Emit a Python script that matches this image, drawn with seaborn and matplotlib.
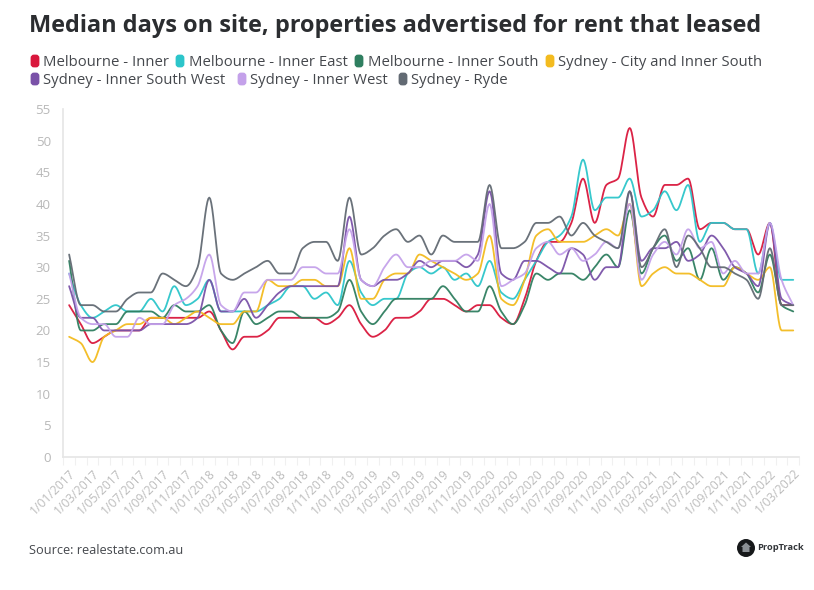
import numpy as np
import pandas as pd
import seaborn as sns
import matplotlib
matplotlib.use('Agg')
import matplotlib.pyplot as plt
from matplotlib.patches import Circle, FancyBboxPatch, Polygon

title = 'Median days on site, properties advertised for rent that leased'
source = 'Source: realestate.com.au'
yticks = [0, 5, 10, 15, 20, 25, 30, 35, 40, 45, 50, 55]
# every second month gets a label
xlabels = ['1/01/2017', '1/03/2017', '1/05/2017', '1/07/2017', '1/09/2017', '1/11/2017',
           '1/01/2018', '1/03/2018', '1/05/2018', '1/07/2018', '1/09/2018', '1/11/2018',
           '1/01/2019', '1/03/2019', '1/05/2019', '1/07/2019', '1/09/2019', '1/11/2019',
           '1/01/2020', '1/03/2020', '1/05/2020', '1/07/2020', '1/09/2020', '1/11/2020',
           '1/01/2021', '1/03/2021', '1/05/2021', '1/07/2021', '1/09/2021', '1/11/2021',
           '1/01/2022', '1/03/2022']

mel_inner = [24, 21, 18, 19, 20, 20, 20, 22, 22, 22, 22, 22, 23, 20, 17, 19, 19, 20, 22, 22,
             22, 22, 21, 22, 24, 21, 19, 20, 22, 22, 23, 25, 25, 24, 23, 24, 24, 22, 21, 25,
             31, 34, 34, 37, 44, 37, 43, 44, 52, 41, 38, 43, 43, 44, 36, 37, 37, 36, 36, 32, 37, 24, 24]
mel_east = [29, 24, 22, 23, 24, 23, 23, 25, 23, 27, 24, 25, 28, 23, 23, 23, 23, 24, 25, 27,
            27, 25, 26, 24, 31, 26, 24, 25, 25, 29, 30, 29, 30, 28, 29, 27, 31, 26, 25, 28,
            31, 34, 35, 38, 47, 39, 41, 41, 44, 38, 39, 42, 39, 43, 34, 37, 37, 36, 36, 29, 37, 28, 28]
mel_south = [31, 20, 20, 21, 21, 23, 23, 23, 22, 24, 23, 23, 24, 20, 18, 23, 21, 22, 23, 23,
             22, 22, 22, 23, 28, 23, 21, 23, 25, 25, 25, 25, 27, 25, 23, 23, 27, 23, 21, 24,
             29, 28, 29, 29, 28, 30, 32, 30, 39, 29, 33, 35, 31, 33, 28, 33, 28, 30, 29, 26, 32, 24, 23]
syd_city = [19, 18, 15, 19, 20, 21, 21, 22, 22, 21, 22, 23, 22, 21, 21, 23, 23, 28, 27, 27,
            28, 28, 27, 27, 33, 25, 25, 28, 29, 29, 32, 31, 30, 29, 28, 29, 35, 25, 24, 28,
            35, 36, 34, 34, 34, 35, 36, 35, 40, 27, 29, 30, 29, 29, 28, 27, 27, 30, 29, 28, 30, 20, 20]
syd_isw = [27, 22, 22, 20, 20, 20, 20, 21, 21, 21, 21, 22, 28, 23, 23, 25, 22, 24, 26, 27,
           27, 27, 27, 27, 38, 28, 27, 28, 28, 29, 31, 30, 31, 31, 30, 32, 42, 29, 28, 31,
           31, 30, 29, 33, 32, 28, 30, 30, 42, 31, 33, 33, 34, 31, 32, 35, 33, 30, 29, 27, 37, 25, 24]
syd_iw = [29, 22, 21, 21, 19, 19, 22, 21, 21, 24, 25, 27, 32, 24, 23, 26, 26, 28, 28, 28,
          30, 30, 29, 29, 36, 28, 27, 30, 32, 30, 30, 31, 31, 31, 32, 31, 40, 27, 28, 29,
          33, 34, 32, 33, 31, 32, 34, 33, 40, 28, 32, 34, 32, 36, 33, 34, 29, 31, 29, 29, 37, 28, 24]
syd_ryde = [32, 24, 24, 23, 23, 25, 26, 26, 29, 28, 27, 30, 41, 29, 28, 29, 30, 31, 29, 29,
            33, 34, 34, 31, 41, 32, 33, 35, 36, 34, 35, 32, 35, 34, 34, 34, 43, 33, 33, 34,
            37, 37, 38, 35, 37, 35, 34, 33, 42, 30, 33, 36, 30, 35, 33, 30, 30, 29, 28, 25, 33, 24, 24]

names = ['Melbourne - Inner', 'Melbourne - Inner East', 'Melbourne - Inner South',
         'Sydney - City and Inner South', 'Sydney - Inner South West', 'Sydney - Inner West',
         'Sydney - Ryde']
series = [mel_inner, mel_east, mel_south, syd_city, syd_isw, syd_iw, syd_ryde]
colors = ['#d9173c', '#2cc5ca', '#2f7f60', '#f3bb1f', '#7a52a8', '#c4a1ea', '#626a73']

# swatch x, text x, y in pixels
legend_pos = [(30, 43, 61), (175, 189, 61), (354, 368, 61), (545, 558, 61),
              (30, 43, 79), (237, 250, 79), (398, 411, 79)]


def smooth(y, n=12):
    # monotone cubic between the monthly values, the source chart draws curves
    y = np.asarray(y, dtype=float)
    d = np.diff(y)
    m = np.zeros(len(y))
    for i in range(1, len(y) - 1):
        if d[i - 1] * d[i] > 0:
            m[i] = 2 * d[i - 1] * d[i] / (d[i - 1] + d[i])
    m[0], m[-1] = d[0], d[-1]
    xs, ys = [], []
    for i in range(len(y) - 1):
        t = np.linspace(0, 1, n, endpoint=False)
        h00 = 2 * t**3 - 3 * t**2 + 1
        h10 = t**3 - 2 * t**2 + t
        h01 = -2 * t**3 + 3 * t**2
        h11 = t**3 - t**2
        xs.extend(i + t)
        ys.extend(h00 * y[i] + h10 * m[i] + h01 * y[i + 1] + h11 * m[i + 1])
    xs.append(len(y) - 1)
    ys.append(y[-1])
    return xs, ys


frames = []
for name, vals in zip(names, series):
    xs, ys = smooth(vals)
    frames.append(pd.DataFrame({'month': xs, 'days': ys, 'region': name}))
df = pd.concat(frames, ignore_index=True)

sns.set_theme(style='white')
plt.rcParams['font.family'] = ['Open Sans', 'DejaVu Sans']

W, H = 814, 590
fig = plt.figure(figsize=(W / 100, H / 100), dpi=100)
ax = fig.add_axes([63.3 / W, 1 - 457 / H, 735.8 / W, 348 / H])

sns.lineplot(data=df, x='month', y='days', hue='region', hue_order=names, palette=colors,
             linewidth=1.3, alpha=0.95, legend=False, estimator=None, sort=False, ax=ax)

ax.set_xlim(-0.5, 62.5)
ax.set_ylim(0, 55)
ax.set_xlabel('')
ax.set_ylabel('')
ax.set_yticks(yticks)
ax.set_yticklabels([str(v) for v in yticks], color='#b8b8b8', fontsize=9.5)
ax.set_xticks(np.arange(0, 63, 2))
ax.set_xticklabels(xlabels, rotation=45, ha='right', rotation_mode='anchor', color='#bcbcbc', fontsize=8.7)
ax.set_xticks(np.arange(-0.5, 63, 1), minor=True)
ax.tick_params(axis='x', which='major', length=0, pad=7)
ax.tick_params(axis='x', which='minor', length=6, width=0.8, color='#f0f0f0', bottom=True)
ax.tick_params(axis='y', length=0, pad=9)
sns.despine(ax=ax)
ax.spines['left'].set_color('#e6e6e6')
ax.spines['bottom'].set_color('#e6e6e6')
ax.grid(False)

# overlay in pixel coordinates for the header, legend and logo
ov = fig.add_axes([0, 0, 1, 1])
ov.set_xlim(0, W)
ov.set_ylim(H, 0)
ov.axis('off')
ov.patch.set_alpha(0)

ov.text(29, 26, title, fontsize=16.9, fontweight='bold', color='#2b2d30', va='center', ha='left')
for (sx, tx, ly), name, col in zip(legend_pos, names, colors):
    ov.add_patch(FancyBboxPatch((sx + 2, ly - 5), 6, 10, boxstyle='round,pad=0,rounding_size=2',
                                mutation_aspect=1, facecolor=col, edgecolor=col, linewidth=2))
    ov.text(tx, ly + 1, name, fontsize=10.7, color='#45484d', va='center', ha='left')
ov.text(29, 550, source, fontsize=9.2, color='#45484d', va='center', ha='left')

ov.add_patch(Circle((746, 548), 9, facecolor='#16181a', edgecolor='none'))
ov.add_patch(Polygon([(746, 542.5), (751, 547), (749.5, 547), (749.5, 552), (742.5, 552), (742.5, 547), (741, 547)],
                     closed=True, facecolor='#8a8f94', edgecolor='none'))
ov.text(757, 548, 'PropTrack', fontsize=6.7, fontweight='bold', color='#33363a', va='center', ha='left')

fig.savefig('out.png', dpi=100, facecolor='white')
